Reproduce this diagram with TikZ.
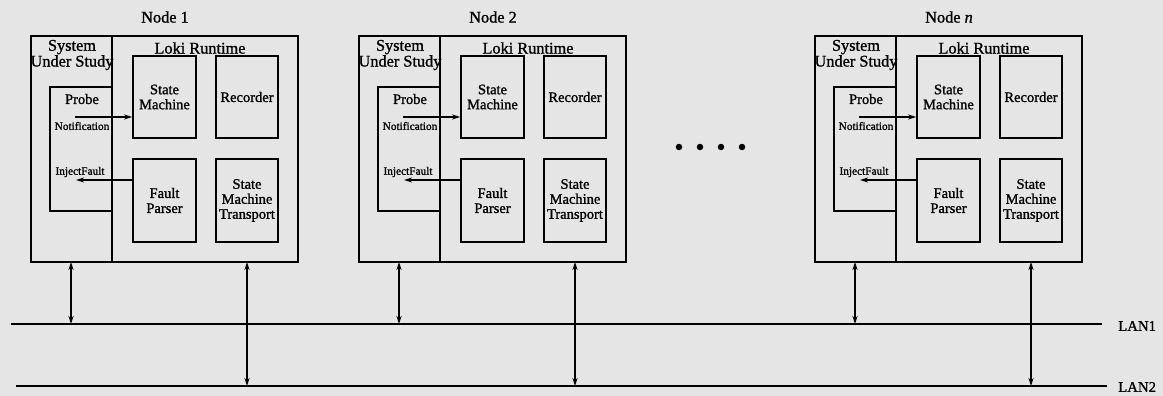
\documentclass[tikz,border=0pt]{standalone}
\usepackage{fontspec}
\setmainfont{Liberation Serif}[FakeBold=1.2,ItalicFeatures={FakeBold=1.2}]
\usetikzlibrary{arrows.meta}
\begin{document}
\begin{tikzpicture}[x=1pt,y=-1pt,
  box/.style={draw=black,line width=1.6pt,inner sep=0pt},
  lbl/.style={inner sep=0pt,align=center,font=\fontsize{14.5}{15}\selectfont},
  ttl/.style={inner sep=0pt,align=center,font=\fontsize{16.3}{14.6}\selectfont},
  tiny/.style={inner sep=0pt,font=\fontsize{11.3}{12}\selectfont},
  arr/.style={line width=1.3pt,-{Stealth[length=8pt,width=5pt]}},
  darr/.style={line width=1.5pt,{Stealth[length=8pt,width=5pt]}-{Stealth[length=8pt,width=5pt]}},
  lan/.style={line width=1.7pt},
  dot/.style={circle,fill=black,inner sep=0pt,minimum size=6.5pt}]
\fill[black!10] (0,0) rectangle (1163,396);
\useasboundingbox (0,0) rectangle (1163,396);
% LAN lines
\coordinate (lanAs) at (11,324);
\coordinate (lanAe) at (1102,324);
\coordinate (lanBs) at (16,386);
\coordinate (lanBe) at (1107,386);
\draw[lan] (lanAs) -- (lanAe);
\draw[lan] (lanBs) -- (lanBe);
\node[anchor=west,inner sep=0pt,font=\fontsize{14.8}{16}\selectfont] (lan1) at (1118,326) {LAN1};
\node[anchor=west,inner sep=0pt,font=\fontsize{14.8}{16}\selectfont] (lan2) at (1118,387) {LAN2};
\foreach \dx/\id/\title in {0/1/{Node 1},328/2/{Node 2},784/n/{Node \textit{n}}}{
  \begin{scope}[xshift=\dx pt]
  \node[ttl] (title\id) at (165,17) {\title};
  \node[box,minimum width=267pt,minimum height=226pt] (outer\id) at (164.5,149) {};
  \coordinate (divt\id) at (112,36);
  \coordinate (divb\id) at (112,262);
  \draw[line width=1.6pt] (divt\id) -- (divb\id);
  \node[box,minimum width=62pt,minimum height=124pt] (probe\id) at (81,149) {};
  \node[ttl] (sus\id) at (72,55) {System\\Under Study};
  \node[ttl] (loki\id) at (200,48) {Loki Runtime};
  \node[lbl] (probet\id) at (82,99) {Probe};
  \node[box,minimum width=63pt,minimum height=82pt] (sm\id) at (164.5,97) {};
  \node[lbl] at (sm\id) {State\\Machine};
  \node[box,minimum width=62pt,minimum height=82pt] (rec\id) at (247,97) {};
  \node[lbl] at (rec\id) {Recorder};
  \node[box,minimum width=63pt,minimum height=83pt] (fp\id) at (164.5,200.5) {};
  \node[lbl] at (fp\id) {Fault\\Parser};
  \node[box,minimum width=62pt,minimum height=83pt] (smt\id) at (247,200.5) {};
  \node[lbl] at (smt\id) {State\\Machine\\Transport};
  \node[tiny] (notif\id) at (82,126) {Notification};
  \node[tiny] (inj\id) at (80,172) {InjectFault};
  \coordinate (ns\id) at (75,117);
  \coordinate (ie\id) at (76,180);
  \draw[arr] (ns\id) -- (ns\id -| sm\id.west);
  \draw[arr] (ie\id -| fp\id.west) -- (ie\id);
  \coordinate (la\id) at (71,262);
  \coordinate (lb\id) at (247,262);
  \draw[darr] (la\id) -- (la\id |- lanAs);
  \draw[darr] (lb\id) -- (lb\id |- lanBs);
  \end{scope}
}
\node[dot] (d1) at (679,147) {};
\node[dot] (d2) at (700,147) {};
\node[dot] (d3) at (721,147) {};
\node[dot] (d4) at (742,147) {};
\end{tikzpicture}
\end{document}
